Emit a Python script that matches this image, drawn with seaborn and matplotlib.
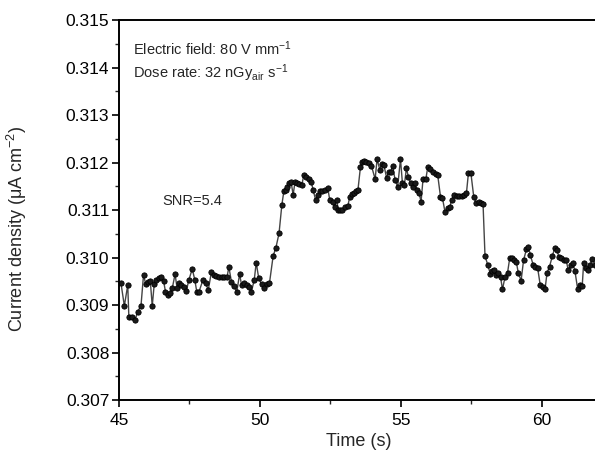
import numpy as np
import pandas as pd
import matplotlib
matplotlib.use("Agg")
import matplotlib.pyplot as plt
import seaborn as sns
from matplotlib.ticker import MultipleLocator, FormatStrFormatter

time_s = [45.07, 45.19, 45.31, 45.35, 45.45, 45.57, 45.66, 45.78, 45.87, 45.95,
          46.04, 46.11, 46.18, 46.25, 46.32, 46.42, 46.49, 46.58, 46.65, 46.73,
          46.82, 46.89, 46.99, 47.06, 47.13, 47.20, 47.29, 47.39, 47.48, 47.60,
          47.69, 47.76, 47.84, 47.98, 48.07, 48.17, 48.28, 48.36, 48.45, 48.55,
          48.64, 48.73, 48.83, 48.90, 48.99, 49.09, 49.18, 49.28, 49.35, 49.44,
          49.54, 49.61, 49.70, 49.80, 49.87, 49.96, 50.06, 50.15, 50.25, 50.34,
          50.47, 50.57, 50.68, 50.78, 50.85, 50.92, 50.97, 51.04, 51.11, 51.18,
          51.25, 51.32, 51.39, 51.49, 51.56, 51.65, 51.75, 51.82, 51.89, 51.98,
          52.06, 52.13, 52.22, 52.32, 52.41, 52.48, 52.58, 52.65, 52.72, 52.79,
          52.86, 52.93, 53.02, 53.12, 53.19, 53.26, 53.33, 53.40, 53.48, 53.57,
          53.64, 53.71, 53.78, 53.87, 53.96, 54.09, 54.16, 54.26, 54.33, 54.40,
          54.50, 54.57, 54.64, 54.71, 54.80, 54.89, 54.99, 55.06, 55.13, 55.20,
          55.27, 55.36, 55.43, 55.50, 55.58, 55.65, 55.72, 55.79, 55.89, 55.96,
          56.05, 56.15, 56.24, 56.31, 56.41, 56.48, 56.57, 56.67, 56.74, 56.81,
          56.88, 56.98, 57.07, 57.16, 57.26, 57.33, 57.40, 57.49, 57.59, 57.68,
          57.76, 57.83, 57.92, 57.99, 58.09, 58.18, 58.23, 58.30, 58.39, 58.46,
          58.54, 58.61, 58.70, 58.79, 58.87, 58.96, 59.03, 59.10, 59.17, 59.27,
          59.36, 59.46, 59.53, 59.60, 59.70, 59.77, 59.86, 59.95, 60.05, 60.12,
          60.19, 60.28, 60.38, 60.47, 60.54, 60.61, 60.68, 60.78, 60.87, 60.94,
          61.04, 61.11, 61.18, 61.28, 61.37, 61.44, 61.49, 61.58, 61.65, 61.72,
          61.80, 61.90, 62.00]

current_density = [0.30946, 0.30898, 0.30942, 0.30875, 0.30875, 0.30868, 0.30886, 0.30898, 0.30963, 0.30944,
                   0.30949, 0.30951, 0.30898, 0.30944, 0.30953, 0.30957, 0.30960, 0.30951, 0.30928, 0.30921,
                   0.30925, 0.30935, 0.30965, 0.30936, 0.30946, 0.30942, 0.30938, 0.30930, 0.30953, 0.30976,
                   0.30953, 0.30928, 0.30928, 0.30953, 0.30946, 0.30932, 0.30970, 0.30963, 0.30961, 0.30959,
                   0.30958, 0.30958, 0.30958, 0.30980, 0.30949, 0.30939, 0.30928, 0.30965, 0.30942, 0.30946,
                   0.30942, 0.30937, 0.30928, 0.30953, 0.30989, 0.30956, 0.30944, 0.30935, 0.30944, 0.30946,
                   0.31003, 0.31021, 0.31051, 0.31111, 0.31139, 0.31142, 0.31149, 0.31156, 0.31158, 0.31132,
                   0.31160, 0.31156, 0.31155, 0.31153, 0.31174, 0.31169, 0.31165, 0.31160, 0.31142, 0.31121,
                   0.31132, 0.31139, 0.31141, 0.31142, 0.31146, 0.31121, 0.31117, 0.31107, 0.31121, 0.31100,
                   0.31099, 0.31099, 0.31107, 0.31108, 0.31128, 0.31134, 0.31136, 0.31139, 0.31142, 0.31191,
                   0.31202, 0.31204, 0.31202, 0.31200, 0.31193, 0.31165, 0.31207, 0.31184, 0.31197, 0.31195,
                   0.31167, 0.31181, 0.31181, 0.31193, 0.31163, 0.31149, 0.31207, 0.31156, 0.31153, 0.31188,
                   0.31170, 0.31156, 0.31149, 0.31156, 0.31142, 0.31136, 0.31117, 0.31165, 0.31165, 0.31191,
                   0.31186, 0.31181, 0.31176, 0.31174, 0.31128, 0.31125, 0.31096, 0.31104, 0.31107, 0.31121,
                   0.31132, 0.31130, 0.31130, 0.31130, 0.31132, 0.31135, 0.31177, 0.31177, 0.31128, 0.31114,
                   0.31117, 0.31115, 0.31113, 0.31003, 0.30984, 0.30965, 0.30972, 0.30974, 0.30963, 0.30968,
                   0.30959, 0.30933, 0.30959, 0.30968, 0.31000, 0.30998, 0.30995, 0.30991, 0.30968, 0.30951,
                   0.30995, 0.31017, 0.31023, 0.31005, 0.30984, 0.30981, 0.30977, 0.30942, 0.30937, 0.30933,
                   0.30967, 0.30981, 0.31003, 0.31021, 0.31016, 0.31002, 0.30998, 0.30995, 0.30995, 0.30974,
                   0.30984, 0.30988, 0.30972, 0.30933, 0.30942, 0.30940, 0.30988, 0.30977, 0.30974, 0.30984,
                   0.30996, 0.30985, 0.30995]

df = pd.DataFrame({"Time (s)": time_s, "J": current_density})

sns.set_style("ticks")
plt.rcParams["font.family"] = ["Liberation Sans", "DejaVu Sans"]
plt.rcParams["mathtext.fontset"] = "custom"
plt.rcParams["mathtext.rm"] = "Liberation Sans"
plt.rcParams["mathtext.it"] = "Liberation Sans:italic"
plt.rcParams["mathtext.bf"] = "Liberation Sans:bold"

fig = plt.figure(figsize=(5.95, 4.65), dpi=100)
ax = fig.add_axes([119 / 595, 1 - 400 / 465, (598 - 119) / 595, (400 - 20) / 465])

sns.lineplot(data=df, x="Time (s)", y="J", ax=ax, sort=False, estimator=None,
             color="#444444", linewidth=1.0, marker="o", markersize=3.8,
             markerfacecolor="#1a1a1a", markeredgecolor="#000000", markeredgewidth=0.6)

ax.set_xlim(45, 62)
ax.set_ylim(0.307, 0.315)
ax.xaxis.set_major_locator(MultipleLocator(5))
ax.xaxis.set_minor_locator(MultipleLocator(2.5))
ax.yaxis.set_major_locator(MultipleLocator(0.001))
ax.yaxis.set_minor_locator(MultipleLocator(0.0005))
ax.yaxis.set_major_formatter(FormatStrFormatter("%.3f"))

for side in ["left", "bottom", "top"]:
    ax.spines[side].set_linewidth(1.4)
    ax.spines[side].set_color("black")
ax.spines["right"].set_visible(False)
ax.spines["top"].set_visible(True)

ax.tick_params(axis="x", which="major", pad=4)
ax.tick_params(axis="y", which="major", pad=2)
ax.tick_params(axis="both", which="major", direction="out", length=5, width=1.2,
               labelsize=12.5, colors="black")
ax.tick_params(axis="both", which="minor", direction="out", length=3, width=1.0)
ax.tick_params(top=False, right=False, which="both")

ax.set_xlabel("Time (s)", fontsize=13, labelpad=4)
ax.set_ylabel("Current density (\u03bcA cm$^{\\mathregular{-2}}$)", fontsize=13)
ax.yaxis.set_label_coords(-0.188, 0.45)

ax.text(0.03, 0.925, "Electric field: 80 V mm$^{\\mathregular{-1}}$",
        transform=ax.transAxes, fontsize=10.5, va="center", ha="left")
ax.text(0.03, 0.859, "Dose rate: 32 nGy$_{\\mathregular{air}}$ s$^{\\mathregular{-1}}$",
        transform=ax.transAxes, fontsize=10.5, va="center", ha="left")
ax.text(0.09, 0.524, "SNR=5.4", transform=ax.transAxes, fontsize=10.5,
        va="center", ha="left")

fig.savefig("out.png", dpi=100)
